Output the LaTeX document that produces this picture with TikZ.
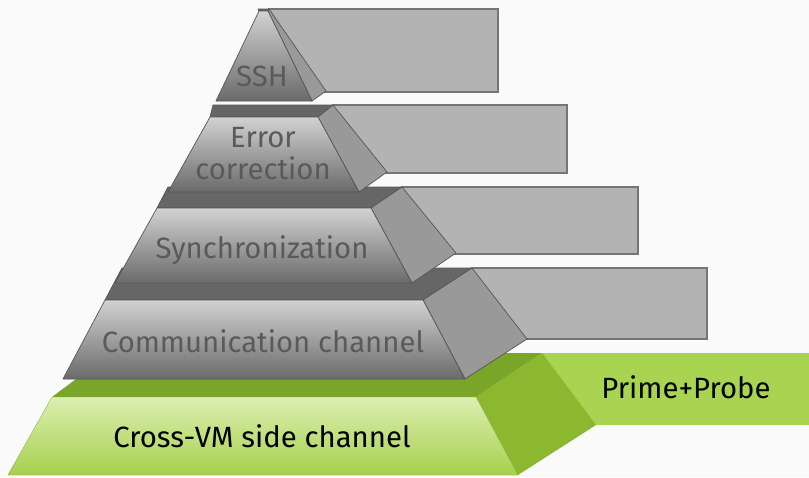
\documentclass[tikz,border=0pt]{standalone}
\usepackage{fontspec}
\setmainfont{Fira Sans}
\definecolor{bgpaper}{HTML}{FAFAFA}
\definecolor{edgegray}{HTML}{555555}
\definecolor{boxedge}{HTML}{757575}
\definecolor{boxgray}{HTML}{B3B3B3}
\definecolor{topgray}{HTML}{666666}
\definecolor{sidegray}{HTML}{999999}
\definecolor{frontlight}{HTML}{D2D2D2}
\definecolor{frontdark}{HTML}{6A6A6A}
\definecolor{labelgray}{HTML}{5A5A5A}
\definecolor{boxgreen}{HTML}{A9D451}
\definecolor{topgreen}{HTML}{79A529}
\definecolor{sidegreen}{HTML}{8BB82E}
\definecolor{frontgreenlight}{HTML}{DCEFB2}
\definecolor{frontgreendark}{HTML}{A6D04C}
\begin{document}
\begin{tikzpicture}[x=1pt,y=-1pt,
  outline/.style={draw=edgegray, line width=0.7pt, line join=round},
  sidebox/.style={fill=boxgray, draw=boxedge, line width=1.2pt},
  topface/.style={outline, fill=topgray},
  sideface/.style={outline, fill=sidegray},
  frontface/.style={outline, top color=frontlight, bottom color=frontdark},
  gboxface/.style={fill=boxgreen},
  gtopface/.style={fill=topgreen},
  gsideface/.style={fill=sidegreen},
  gfrontface/.style={draw=frontgreendark!80!black, line width=0.3pt, top color=frontgreenlight, bottom color=frontgreendark},
  graylabel/.style={text=labelgray, font=\fontsize{29.3}{32}\selectfont, inner sep=0pt},
  darklabel/.style={text=black, font=\fontsize{29.3}{32}\selectfont, inner sep=0pt}]

% paper
\fill[bgpaper] (0,0) rectangle (809,477);
\useasboundingbox (0,0) rectangle (809,477);

% base layer: Cross-VM side channel
\path[gboxface] (542,353) rectangle (809,425);
\path[gtopface] (111,353) -- (542,353) -- (476,397) -- (52,397) -- cycle;
\path[gsideface] (476,397) -- (542,353) -- (596,425) -- (518,475) -- cycle;
\path[gfrontface] (52,397) -- (476,397) -- (518,475) -- (8,475) -- cycle;
\node[darklabel, anchor=base] (crossvm) at (262,447) {Cross-VM side channel};
\node[darklabel, anchor=base] (primeprobe) at (686,398) {Prime+Probe};

% layer 4: Communication channel
\path[sidebox] (472,268) rectangle (707,339);
\path[topface] (122,268) -- (472,268) -- (423,300) -- (105,300) -- cycle;
\path[sideface] (423,300) -- (472,268) -- (527,339) -- (465,379) -- cycle;
\path[frontface] (105,300) -- (423,300) -- (465,379) -- (63,379) -- cycle;
\node[graylabel, anchor=base] (comm) at (263,352) {Communication channel};

% layer 3: Synchronization
\path[sidebox] (402,187) rectangle (638,254);
\path[topface] (168,187) -- (402,187) -- (371,208) -- (157,208) -- cycle;
\path[sideface] (371,208) -- (402,187) -- (456,253) -- (412,283) -- cycle;
\path[frontface] (157,208) -- (371,208) -- (412,283) -- (115,283) -- cycle;
\node[graylabel, anchor=base] (sync) at (262,258) {Synchronization};

% layer 2: Error correction
\path[sidebox] (333,105) rectangle (567,173);
\path[topface] (213,105) -- (333,105) -- (318,117) -- (210,117) -- cycle;
\path[sideface] (318,117) -- (333,105) -- (387,172) -- (359,192) -- cycle;
\path[frontface] (210,117) -- (318,117) -- (359,192) -- (168,192) -- cycle;
\node[graylabel, align=center, anchor=center] (errcorr) at (263,154) {Error\\correction};

% apex: SSH
\path[sidebox] (269,9) rectangle (498,92);
\path[topface] (258,9) -- (269,9) -- (268,11) -- (259,11) -- cycle;
\path[sideface] (268,11) -- (269,9) -- (326,91) -- (312,101) -- cycle;
\path[frontface] (259,11) -- (268,11) -- (312,101) -- (216,101) -- cycle;
\node[graylabel, anchor=base] (ssh) at (262,86) {SSH};

\end{tikzpicture}
\end{document}
